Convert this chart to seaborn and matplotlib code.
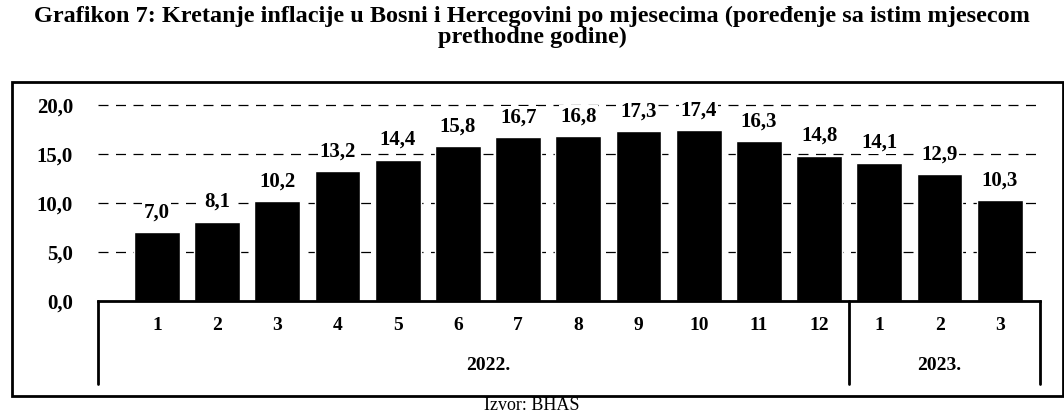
import matplotlib
matplotlib.use("Agg")
import matplotlib.pyplot as plt
import seaborn as sns
import pandas as pd
from matplotlib.patches import Rectangle
from matplotlib.lines import Line2D

months = ["1", "2", "3", "4", "5", "6", "7", "8", "9", "10", "11", "12", "1", "2", "3"]
years = ["2022."] * 12 + ["2023."] * 3
inflation = [7.0, 8.1, 10.2, 13.2, 14.4, 15.8, 16.7, 16.8, 17.3, 17.4, 16.3, 14.8, 14.1, 12.9, 10.3]
yticks = [0, 5, 10, 15, 20]

df = pd.DataFrame({"pos": [f"{y}-{m}" for y, m in zip(years, months)],
                   "month": months, "year": years, "value": inflation})

sns.set_theme(style="white")
plt.rcParams["font.family"] = ["Liberation Serif", "DejaVu Serif"]
plt.rcParams["text.color"] = "black"
plt.rcParams["ytick.color"] = "black"

fig = plt.figure(figsize=(10.64, 4.16), dpi=100)
ax = fig.add_axes([0.092, 0.276, 0.885, 0.496])

sns.barplot(data=df, x="pos", y="value", color="black", width=0.76,
            saturation=1, ax=ax, order=list(df["pos"]))

ax.set_xlim(-0.98, 14.66)
ax.set_ylim(0, 21)
ax.set_yticks(yticks)
ax.set_yticklabels([f"{v:.1f}".replace(".", ",") for v in yticks],
                   fontsize=15, fontweight="bold")
ax.tick_params(axis="y", length=0, pad=18)
ax.set_xticks([])
ax.set_xlabel("")
ax.set_ylabel("")
for v in yticks[1:]:
    ax.axhline(v, color="black", lw=0.9, ls=(0, (8, 6)), zorder=0)
for s in ["top", "right", "left"]:
    ax.spines[s].set_visible(False)
ax.spines["bottom"].set_color("black")
ax.spines["bottom"].set_linewidth(2)

for i, v in enumerate(inflation):
    ax.text(i, v + 1.0, f"{v:.1f}".replace(".", ","), ha="center", va="bottom",
            fontsize=15, fontweight="bold",
            bbox=dict(facecolor="white", edgecolor="none", pad=1))

# category table below axis
trans = ax.get_xaxis_transform()
for i, m in enumerate(months):
    ax.text(i, -0.117, m, transform=trans, ha="center", va="center",
            fontsize=14, fontweight="bold")
year_names = ["2022.", "2023."]
year_centers = [5.5, 13]
for yn, xc in zip(year_names, year_centers):
    ax.text(xc, -0.31, yn, transform=trans, ha="center", va="center",
            fontsize=14, fontweight="bold")
for xs in [-0.98, 11.5, 14.66]:
    ax.add_line(Line2D([xs, xs], [0, -0.40], transform=trans, color="black",
                       lw=2, clip_on=False))

# outer frame
fig.patches.append(Rectangle((12 / 1064, 1 - 396 / 416), 1 - 12 / 1064 - 0.001,
                             (396 - 82) / 416, transform=fig.transFigure,
                             fill=False, edgecolor="black", lw=2))

fig.text(0.5, 1 - 27 / 416,
         "Grafikon 7: Kretanje inflacije u Bosni i Hercegovini po mjesecima (poređenje sa istim mjesecom\nprethodne godine)",
         ha="center", va="center", fontsize=17.5, fontweight="bold", linespacing=0.95)
fig.text(0.5, 1 - 406 / 416, "Izvor: BHAS", ha="center", va="center", fontsize=13)

fig.savefig("out.png", dpi=100)
